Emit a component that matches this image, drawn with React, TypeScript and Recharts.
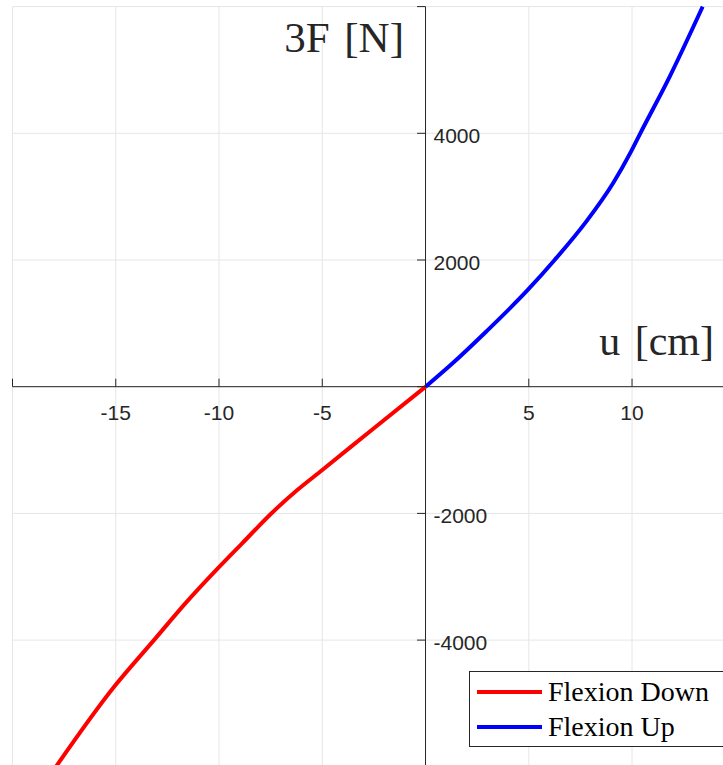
import React from "react";
import {
  LineChart,
  Line,
  XAxis,
  YAxis,
  CartesianGrid,
  ReferenceLine,
} from "recharts";

// Flexion Down (red), u in cm, 3F in N
const downU = [0, -2.5, -5, -6.21, -7.43, -8.88, -10.06, -11.63, -13.15, -15.08, -17.9];
const downF = [0, -655, -1315, -1631, -1989, -2473, -2868, -3420, -4000, -4737, -6000];

// Flexion Up (blue)
const upU = [0, 1.31, 2.93, 4.95, 6.25, 7.78, 9.08, 9.95, 10.4, 11.83, 13.42];
const upF = [0, 370, 868, 1527, 2000, 2606, 3212, 3711, 4000, 4900, 6000];

const xTicks = [-20, -15, -10, -5, 0, 5, 10, 15];
const yTicks = [-6000, -4000, -2000, 0, 2000, 4000, 6000];
const xLabelled = [-15, -10, -5, 5, 10];
const yLabelled = [-4000, -2000, 2000, 4000];

const downData = downU.map((u, i) => ({ u, F: downF[i] }));
const upData = upU.map((u, i) => ({ u, F: upF[i] }));

const W = 740;
const H = 770;
const M = { top: 6.6, right: 4.7, bottom: 2.2, left: 11.5 };
const AX = 1; // axis thickness reserved by XAxis/YAxis
const PW = W - M.left - AX - M.right;
const PH = H - M.top - M.bottom - AX;
const X0 = M.left + AX + (20 / 35) * PW;
const Y0 = M.top + PH / 2;

const AXIS = "#262626";
const SANS = "'Liberation Sans', Arial, sans-serif";
const SERIF = "'Liberation Serif', 'Times New Roman', serif";

const XTick = (props: any) => {
  const { x, payload } = props;
  return (
    <g>
      <line x1={x} x2={x} y1={Y0} y2={Y0 - 8} stroke={AXIS} strokeWidth={1} />
      {xLabelled.includes(payload.value) && (
        <text x={x} y={Y0 + 33.5} textAnchor="middle" fontSize={21} fontFamily={SANS} fill={AXIS}>
          {payload.value}
        </text>
      )}
    </g>
  );
};

const YTick = (props: any) => {
  const { y, payload } = props;
  return (
    <g>
      <line x1={X0 - 8.5} x2={X0} y1={y} y2={y} stroke={AXIS} strokeWidth={1} />
      {yLabelled.includes(payload.value) && (
        <text x={X0 + 8} y={y + 10} textAnchor="start" fontSize={21} fontFamily={SANS} fill={AXIS}>
          {payload.value}
        </text>
      )}
    </g>
  );
};

const legendItems = [
  { name: "Flexion Down", color: "#ff0000", top: 20 },
  { name: "Flexion Up", color: "#0000ff", top: 55 },
];

export default function App() {
  return (
    <div style={{ position: "fixed", left: 0, top: 0, width: 723, height: 765, overflow: "hidden", background: "#fff" }}>
      <LineChart width={W} height={H} margin={M}>
        <CartesianGrid stroke="#e6e6e6" strokeWidth={1} />
        <XAxis
          type="number"
          dataKey="u"
          domain={[-20, 15]}
          ticks={xTicks}
          interval={0}
          height={AX}
          axisLine={false}
          tickLine={false}
          tick={XTick}
        />
        <YAxis
          type="number"
          dataKey="F"
          domain={[-6000, 6000]}
          ticks={yTicks}
          interval={0}
          width={AX}
          axisLine={false}
          tickLine={false}
          tick={YTick}
        />
        <ReferenceLine x={0} stroke={AXIS} strokeWidth={1} />
        <ReferenceLine y={0} stroke={AXIS} strokeWidth={1} />
        <Line
          data={downData}
          dataKey="F"
          name="Flexion Down"
          type="monotone"
          stroke="#ff0000"
          strokeWidth={4}
          dot={false}
          isAnimationActive={false}
        />
        <Line
          data={upData}
          dataKey="F"
          name="Flexion Up"
          type="monotone"
          stroke="#0000ff"
          strokeWidth={4}
          dot={false}
          isAnimationActive={false}
        />
        <text x={404} y={52} textAnchor="end" fontSize={43} fontFamily={SERIF} fill={AXIS} wordSpacing={4}>
          3F [N]
        </text>
        <text x={714} y={355} textAnchor="end" fontSize={42} fontFamily={SERIF} fill={AXIS} wordSpacing={4}>
          u [cm]
        </text>
      </LineChart>
      <div
        style={{
          position: "absolute",
          left: 469,
          top: 671,
          width: 262,
          height: 76,
          border: "1px solid #262626",
          background: "#fff",
          boxSizing: "border-box",
          fontFamily: SERIF,
          fontSize: 28,
          color: "#000",
        }}
      >
        {legendItems.map((it) => (
          <div
            key={it.name}
            style={{ position: "absolute", left: 7, top: it.top - 20, display: "flex", alignItems: "center", height: 40 }}
          >
            <div style={{ width: 65, height: 4, background: it.color }} />
            <span style={{ marginLeft: 6, whiteSpace: "nowrap", lineHeight: "28px" }}>{it.name}</span>
          </div>
        ))}
      </div>
    </div>
  );
}
